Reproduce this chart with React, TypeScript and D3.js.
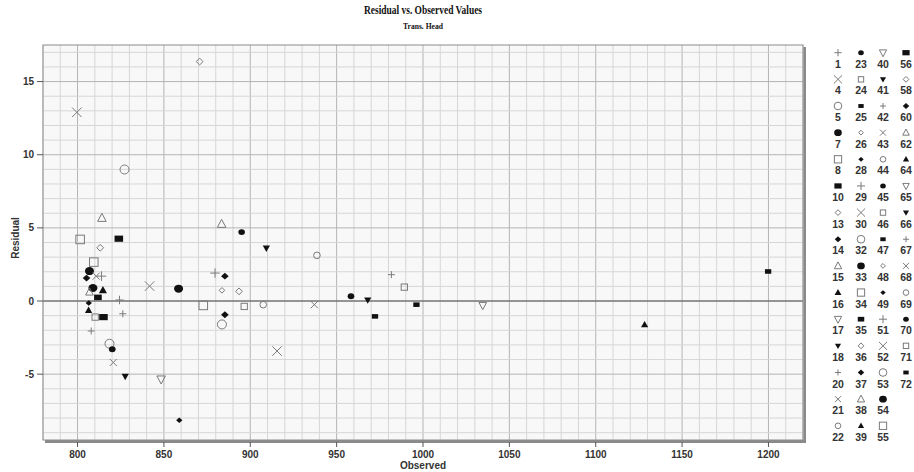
import React from 'react';
import * as d3 from 'd3';

// Legend wells (column-major order as shown at right)
const legendIds = [
  1, 4, 5, 7, 8, 10, 13, 14, 15, 16, 17, 18, 20, 21, 22,
  23, 24, 25, 26, 28, 29, 30, 32, 33, 34, 35, 36, 37, 38, 39,
  40, 41, 42, 43, 44, 45, 46, 47, 48, 49, 51, 52, 53, 54, 55,
  56, 58, 60, 62, 64, 65, 66, 67, 68, 69, 70, 71, 72,
];
const legendShapes = [
  'plus', 'cross', 'circle', 'fcircle', 'square', 'fsquare', 'diamond', 'fdiamond', 'tri', 'ftri', 'dtri', 'fdtri', 'plus', 'cross', 'circle',
  'fcircle', 'square', 'fsquare', 'diamond', 'fdiamond', 'plus', 'cross', 'circle', 'fcircle', 'square', 'fsquare', 'diamond', 'fdiamond', 'tri', 'ftri',
  'dtri', 'fdtri', 'plus', 'cross', 'circle', 'fcircle', 'square', 'fsquare', 'diamond', 'fdiamond', 'plus', 'cross', 'circle', 'fcircle', 'square',
  'fsquare', 'diamond', 'fdiamond', 'tri', 'ftri', 'dtri', 'fdtri', 'plus', 'cross', 'circle', 'fcircle', 'square', 'fsquare',
];
const legendSizes = [
  'M', 'L', 'L', 'L', 'L', 'L', 'M', 'M', 'L', 'L', 'L', 'M', 'S', 'S', 'S',
  'S', 'S', 'S', 'S', 'S', 'L', 'L', 'L', 'L', 'L', 'M', 'M', 'M', 'L', 'M',
  'L', 'M', 'S', 'S', 'S', 'S', 'S', 'S', 'S', 'S', 'L', 'L', 'L', 'L', 'L',
  'L', 'M', 'M', 'M', 'M', 'M', 'M', 'S', 'S', 'S', 'S', 'S', 'S',
];

// Points: well id, observed, residual
const pointWell = [
  36, 4, 5, 15, 38, 8, 10, 13, 34, 7, 14, 21, 29, 51, 60, 30, 33, 48, 54, 16,
  62, 35, 1, 55, 49, 39, 24, 56, 20, 37, 32, 42, 53, 45, 43, 41, 17, 28, 23, 66,
  44, 58, 71, 22, 68, 52, 70, 18, 25, 67, 46, 47, 65, 64, 72,
];
const pointObs = [
  870.7, 799.6, 827.2, 814.1, 883.4, 801.5, 823.9, 813.1, 809.4, 806.9, 805.2, 810.8, 813.9, 879.6, 885.3, 841.7, 858.5, 883.6, 808.9, 814.7,
  806.9, 811.8, 824.3, 872.8, 806.5, 806.4, 810.2, 815.0, 826.2, 885.3, 883.6, 807.9, 818.5, 820.1, 820.7, 827.6, 848.4, 858.9, 895.0, 909.3,
  938.6, 893.5, 896.5, 907.5, 937.1, 915.5, 958.3, 968.0, 972.2, 981.7, 989.2, 996.2, 1034.6, 1128.3, 1199.8,
];
const pointRes = [
  16.37, 12.9, 8.99, 5.67, 5.26, 4.21, 4.26, 3.64, 2.66, 2.05, 1.57, 1.7, 1.7, 1.91, 1.7, 1.02, 0.84, 0.73, 0.89, 0.73,
  0.61, 0.25, 0.07, -0.3, -0.14, -0.64, -1.1, -1.1, -0.87, -0.94, -1.6, -2.05, -2.92, -3.3, -4.2, -5.15, -5.35, -8.15, 4.71, 3.62,
  3.12, 0.66, -0.37, -0.25, -0.25, -3.42, 0.32, 0.07, -1.05, 1.8, 0.95, -0.25, -0.3, -1.62, 2.02,
];

const xTicks = [800, 850, 900, 950, 1000, 1050, 1100, 1150, 1200];
const yTicks = [-5, 0, 5, 10, 15];

const W = 914;
const H = 472;
const M = { left: 43, right: 803, top: 45, bottom: 440 };

const sizePx: Record<string, number> = { L: 9.5, M: 8.5, S: 7 };

function Symbol({ shape, x, y, s }: { shape: string; x: number; y: number; s: number }) {
  const h = s / 2;
  const gray = '#7a7a7a';
  const dark = '#111';
  switch (shape) {
    case 'plus':
      return <path d={`M${x - h},${y}H${x + h}M${x},${y - h}V${y + h}`} stroke={gray} strokeWidth={1} fill="none" />;
    case 'cross':
      return <path d={`M${x - h},${y - h}L${x + h},${y + h}M${x - h},${y + h}L${x + h},${y - h}`} stroke={gray} strokeWidth={1} fill="none" />;
    case 'circle':
      return <circle cx={x} cy={y} r={h * 0.95} stroke={gray} strokeWidth={1} fill="none" />;
    case 'fcircle':
      return <ellipse cx={x} cy={y} rx={h * 0.95} ry={h * 0.85} fill={dark} />;
    case 'square':
      return <rect x={x - h * 0.9} y={y - h * 0.9} width={h * 1.8} height={h * 1.8} stroke={gray} strokeWidth={1} fill="none" />;
    case 'fsquare':
      return <rect x={x - h * 0.9} y={y - h * 0.65} width={h * 1.8} height={h * 1.3} fill={dark} />;
    case 'diamond':
      return <path d={`M${x},${y - h * 0.8}L${x + h * 0.8},${y}L${x},${y + h * 0.8}L${x - h * 0.8},${y}Z`} stroke={gray} strokeWidth={1} fill="none" />;
    case 'fdiamond':
      return <path d={`M${x},${y - h * 0.8}L${x + h * 0.9},${y}L${x},${y + h * 0.8}L${x - h * 0.9},${y}Z`} fill={dark} />;
    case 'tri':
      return <path d={`M${x},${y - h}L${x + h * 0.9},${y + h * 0.7}L${x - h * 0.9},${y + h * 0.7}Z`} stroke={gray} strokeWidth={1} fill="none" />;
    case 'ftri':
      return <path d={`M${x},${y - h * 0.9}L${x + h * 0.85},${y + h * 0.6}L${x - h * 0.85},${y + h * 0.6}Z`} fill={dark} />;
    case 'dtri':
      return <path d={`M${x},${y + h}L${x + h * 0.9},${y - h * 0.7}L${x - h * 0.9},${y - h * 0.7}Z`} stroke={gray} strokeWidth={1} fill="none" />;
    case 'fdtri':
      return <path d={`M${x},${y + h * 0.9}L${x + h * 0.85},${y - h * 0.6}L${x - h * 0.85},${y - h * 0.6}Z`} fill={dark} />;
    default:
      return null;
  }
}

export default function App() {
  const x = d3.scaleLinear().domain([780, 1220]).range([M.left, M.right]);
  const y = d3.scaleLinear().domain([-9.5, 17.5]).range([M.bottom, M.top]);

  const vGrid = d3.range(780, 1221, 10);
  const hGrid = d3.range(-9, 18, 1);

  const idIndex = new Map(legendIds.map((id, i) => [id, i]));

  const legendX = [838, 861, 883, 906];
  const legendTop = 52.7;
  const pitch = 26.65;
  const perCol = 15;

  const sans = 'Arial, "Liberation Sans", sans-serif';
  const serif = '"Times New Roman", "Liberation Serif", serif';

  return (
    <svg width={W} height={H} style={{ position: 'absolute', left: 0, top: 0, background: '#fff' }}>
      {/* Title */}
      <text x={423} y={14} textAnchor="middle" fontFamily={serif} fontWeight="bold" fontSize={13.5} fill="#111"
        textLength={118} lengthAdjust="spacingAndGlyphs">Residual vs. Observed Values</text>
      <text x={423} y={29} textAnchor="middle" fontFamily={serif} fontWeight="bold" fontSize={9} fill="#111"
        textLength={40} lengthAdjust="spacingAndGlyphs">Trans. Head</text>

      {/* Plot shadow + background */}
      <rect x={M.left + 2} y={M.top + 2} width={M.right - M.left + 1} height={M.bottom - M.top + 1} fill="#8a8a8a" />
      <rect x={M.left} y={M.top} width={M.right - M.left} height={M.bottom - M.top} fill="#f8f8f8" />

      {/* Grid */}
      {vGrid.map((v) => (
        <line key={'v' + v} x1={x(v)} x2={x(v)} y1={M.top} y2={M.bottom}
          stroke={v % 50 === 0 ? '#b4b4b4' : '#d6d6d6'} strokeWidth={1} />
      ))}
      {hGrid.map((v) => (
        <line key={'h' + v} x1={M.left} x2={M.right} y1={y(v)} y2={y(v)}
          stroke={v % 5 === 0 ? '#b4b4b4' : '#d6d6d6'} strokeWidth={1} />
      ))}

      {/* Zero line */}
      <line x1={M.left} x2={M.right} y1={y(0)} y2={y(0)} stroke="#555" strokeWidth={1.2} />

      {/* Frame */}
      <rect x={M.left} y={M.top} width={M.right - M.left} height={M.bottom - M.top} fill="none" stroke="#8c8c8c" strokeWidth={1} />

      {/* Y axis ticks */}
      {yTicks.map((t) => (
        <g key={'yt' + t}>
          <line x1={M.left - 6} x2={M.left} y1={y(t)} y2={y(t)} stroke="#555" />
          <text x={M.left - 9} y={y(t) + 3.5} textAnchor="end" fontFamily={sans} fontWeight="bold" fontSize={10} fill="#333">{t}</text>
        </g>
      ))}
      {/* X axis ticks */}
      {xTicks.map((t) => (
        <g key={'xt' + t}>
          <line x1={x(t)} x2={x(t)} y1={M.bottom + 2} y2={M.bottom + 7} stroke="#555" />
          <text x={x(t)} y={M.bottom + 18} textAnchor="middle" fontFamily={sans} fontWeight="bold" fontSize={10} fill="#333">{t}</text>
        </g>
      ))}

      {/* Axis titles */}
      <text x={423} y={469} textAnchor="middle" fontFamily={sans} fontWeight="bold" fontSize={10} fill="#333">Observed</text>
      <text transform={`translate(19,238) rotate(-90)`} textAnchor="middle" fontFamily={sans} fontWeight="bold" fontSize={10} fill="#333">Residual</text>

      {/* Points */}
      {pointWell.map((id, i) => {
        const li = idIndex.get(id) ?? 0;
        return (
          <Symbol key={'p' + i} shape={legendShapes[li]} x={x(pointObs[i])} y={y(pointRes[i])} s={sizePx[legendSizes[li]]} />
        );
      })}

      {/* Legend */}
      {legendIds.map((id, i) => {
        const col = Math.floor(i / perCol);
        const row = i % perCol;
        const cx = legendX[col];
        const sy = legendTop + row * pitch;
        return (
          <g key={'l' + id}>
            <Symbol shape={legendShapes[i]} x={cx} y={sy} s={sizePx[legendSizes[i]] * 0.85} />
            <text x={cx} y={sy + 15} textAnchor="middle" fontFamily={sans} fontWeight="bold" fontSize={10.5} fill="#333">{id}</text>
          </g>
        );
      })}
    </svg>
  );
}
